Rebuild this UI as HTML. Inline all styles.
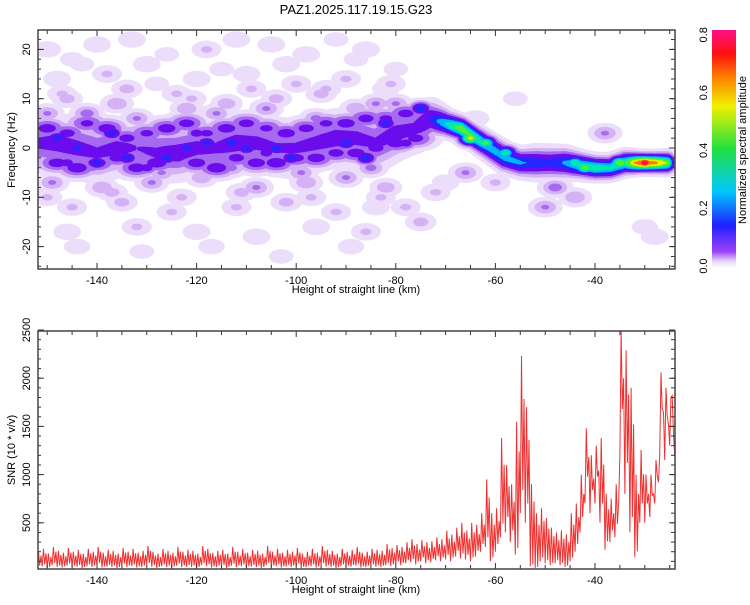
<!DOCTYPE html>
<html><head><meta charset="utf-8"><style>
body{margin:0;background:#fff;width:750px;height:600px;overflow:hidden}
svg{font-family:"Liberation Sans",sans-serif}
</style></head><body>
<svg id="fig" width="750" height="600">
<defs>
<linearGradient id="cb" x1="0" y1="1" x2="0" y2="0">
<stop offset="0" stop-color="#ffffff"/><stop offset="0.03" stop-color="#e4d2fa"/>
<stop offset="0.07" stop-color="#9b40f5"/><stop offset="0.18" stop-color="#2020ff"/>
<stop offset="0.32" stop-color="#00c8ff"/><stop offset="0.5" stop-color="#20e040"/>
<stop offset="0.68" stop-color="#f0f000"/><stop offset="0.8" stop-color="#ff8000"/>
<stop offset="0.9" stop-color="#ff1010"/><stop offset="1" stop-color="#ff1088"/>
</linearGradient>
<clipPath id="c1"><rect x="38" y="30" width="637" height="239"/></clipPath>
<clipPath id="c2"><rect x="38" y="331" width="637" height="238"/></clipPath>
</defs>
<text x="356" y="14" text-anchor="middle" font-size="13">PAZ1.2025.117.19.15.G23</text>
<g id="spec" clip-path="url(#c1)"></g>
<g id="ax1"></g>
<rect x="712" y="30" width="24" height="238" fill="url(#cb)"/>
<g id="cbax"></g>
<text transform="translate(746,150) rotate(-90)" text-anchor="middle" font-size="11">Normalized spectral amplitude</text>
<g id="snr" clip-path="url(#c2)"></g>
<g id="ax2"></g>
</svg>
<script>
// ---- Spectrogram data ----
const ridgeKm   = [-152,-148,-144,-140,-136,-132,-128,-124,-120,-116,-112,-108,-104,-100,-96,-92,-88,-84,-80,-76,-73,-70,-67,-64,-61,-58,-55,-52,-49,-46,-43,-40,-37,-34,-31,-28,-25];
const ridgeFreq = [1,1,0,-1,0,0,-1,-1,0,0,1,1,0,0,1,2,2,1,3,4,6,5,4,2,0,-2,-3,-3,-3,-3,-3.5,-4,-4,-3,-3,-3,-3];
const ridgeAmp  = [0.14,0.16,0.15,0.14,0.15,0.13,0.14,0.16,0.15,0.14,0.16,0.15,0.14,0.14,0.15,0.16,0.15,0.14,0.16,0.15,0.2,0.34,0.46,0.4,0.32,0.3,0.28,0.24,0.22,0.28,0.36,0.4,0.36,0.4,0.7,0.65,0.45];
const ridgeWidth= [2.6,2.6,2.8,2.8,2.6,2.8,2.8,2.6,2.6,2.8,2.6,2.6,2.6,2.8,2.6,2.6,2.6,2.6,2.4,2.2,1.8,1.3,1.2,1.2,1.3,1.4,1.4,1.6,1.6,1.5,1.3,1.2,1.2,1.2,1.0,1.0,1.1];
// background blobs: km, frequency, amplitude
const blobKm  = [-150,-145,-140,-133,-126,-118,-112,-105,-98,-92,-86,-80,-148,-138,-128,-120,-110,-100,-90,-82,-146,-136,-124,-114,-104,-94,-84,-76,-150,-142,-132,-122,-116,-106,-96,-88,-80,-149,-139,-129,-119,-108,-98,-90,-82,-145,-135,-125,-112,-102,-92,-84,-146,-132,-120,-108,-96,-86,-75,-70,-60,-56,-48,-44,-40,-50,-53,-66,-30,-28,-38,
 -143,-130,-115,-102,-88,-147,-134,-121,-109,-95,-81,-141,-127,-113,-99,-85,-150,-137,-123,-111,-97,-83,-144,-131,-117,-103,-89,-78,-72,-64];
const blobFreq= [20,18,21,22,19,20,22,21,19,22,20,16,14,15,13,14,15,13,14,12,10,9,11,9,10,12,9,8,7,7,6,8,7,8,6,8,9,-7,-8,-7,-6,-8,-7,-6,-8,-12,-11,-13,-12,-11,-13,-12,-17,-16,-17,-18,-16,-17,-15,-7,-7,10,-8,-10,-5,-12,-3,-5,-16,-18,3,
 17,17,16,17,18,11,12,10,12,11,13,-4,-5,-4,-5,-4,-10,-9,-10,-9,-10,-10,-20,-21,-20,-22,-20,-12,-9,6];
const blobAmp = [0.04,0.03,0.04,0.04,0.03,0.05,0.04,0.04,0.04,0.03,0.04,0.03,0.04,0.05,0.03,0.04,0.04,0.05,0.05,0.04,0.06,0.08,0.05,0.07,0.06,0.05,0.09,0.09,0.09,0.11,0.09,0.08,0.09,0.09,0.1,0.08,0.09,0.09,0.08,0.09,0.08,0.09,0.08,0.09,0.07,0.05,0.06,0.05,0.05,0.06,0.05,0.04,0.04,0.05,0.04,0.04,0.04,0.05,0.06,0.04,0.05,0.03,0.11,0.08,0.07,0.09,0.13,0.09,0.035,0.04,0.09,
 0.03,0.04,0.03,0.04,0.03,0.05,0.06,0.05,0.05,0.06,0.05,0.1,0.09,0.1,0.09,0.1,0.05,0.06,0.05,0.06,0.05,0.05,0.035,0.03,0.035,0.03,0.035,0.05,0.05,0.04];
// dark-purple band patches around the noisy ridge
const bandKm  = [-150,-146,-142,-138,-134,-130,-126,-122,-118,-114,-110,-106,-102,-98,-94,-90,-86,-82,-78,-148,-144,-140,-136,-132,-128,-124,-120,-116,-112,-108,-104,-100,-96,-92,-88,-84,-80,-76];
const bandFreq= [4,3,5,4,2,3,4,5,3,4,5,4,3,4,5,5,6,6,7,-3,-4,-3,-2,-4,-3,-2,-3,-4,-2,-3,-3,-2,-2,-1,-1,0,1,2];
const bandAmp = [0.17,0.16,0.15,0.17,0.16,0.15,0.17,0.16,0.15,0.17,0.16,0.15,0.17,0.16,0.15,0.17,0.16,0.15,0.16,0.17,0.18,0.17,0.16,0.17,0.18,0.16,0.17,0.18,0.16,0.17,0.18,0.16,0.17,0.16,0.17,0.16,0.17,0.16];
// spot highlights on ridge
const spotKm  = [-148,-144,-140,-137,-134,-126,-122,-118,-113,-110,-104,-101,-90,-86,-82,-75,-65,-62,-58,-44,-42,-35,-30,-27,-146,-130,-120,-106,-94,-78];
const spotFreq= [2,0,-3,3,-2,-2,0,1,1,0,0,-2,1,-2,5,8,2,1,-1,-3,-4,-3,-3,-3,-3,-4,3,-1,2,1];
const spotAmp = [0.24,0.24,0.24,0.24,0.24,0.25,0.24,0.24,0.26,0.24,0.25,0.24,0.25,0.25,0.24,0.26,0.55,0.45,0.4,0.42,0.48,0.5,0.8,0.62,0.18,0.18,0.18,0.18,0.18,0.18];
// ---- SNR data (1 km steps from -152 to -24) ----
const snrKm0 = -152;
const snrLow  = [40,50,30,60,40,35,55,40,45,30,50,40,60,35,45,40,30,55,40,50,35,40,60,45,30,50,40,35,55,40,45,40,30,60,50,35,40,45,30,55,40,50,35,45,40,30,60,40,50,35,45,40,55,30,40,50,35,60,45,40,30,50,40,45,55,35,40,50,45,40,60,50,
 70,60,80,90,70,100,80,90,110,100,
 120,100,150,130,120,100,150,200,250,100,200,350,400,300,170,600,500,50,30,100,80,60,80,60,40,100,200,400,700,600,700,500,220,300,350,1200,800,400,145,500,500,560,700,1200,1150,1300,1200];
const snrHigh = [200,230,180,250,210,190,240,200,220,180,230,200,250,190,220,210,180,240,200,230,190,210,260,200,180,230,210,190,250,200,220,210,180,260,230,190,210,220,180,250,200,230,190,220,210,180,260,200,230,190,220,200,240,180,200,230,190,260,220,210,180,230,200,220,250,190,200,230,220,210,280,240,
 270,250,300,330,280,320,300,310,350,330,
 420,380,450,500,420,500,480,600,950,600,650,1380,1100,900,1550,2230,1700,900,600,650,550,450,400,420,380,600,700,1000,1480,1200,1300,1380,800,750,900,2500,2290,1900,1000,1255,1000,1000,1150,2060,1900,1800,1400];

const NS='http://www.w3.org/2000/svg';
function mk(tag,attrs,parent){const e=document.createElementNS(NS,tag);for(const k in attrs)e.setAttribute(k,attrs[k]);parent.appendChild(e);return e;}
const xKm = km => 97 + 4.98*(km+140);
const yHz = f => 148 - 4.93*f;
const ySnr = v => 571 - 0.0964*v;

const levels=[0.01,0.04,0.08,0.13,0.2,0.27,0.34,0.42,0.52,0.62,0.7];
const colors=['#ecdefb','#d4b2f5','#a56af0','#6a0cec','#2626ff','#00b8ff','#00e8b0','#50f030','#e8f000','#ff7a00','#ff1048'];
const spec=document.getElementById('spec');
const samples=[];
for(let i=0;i<ridgeKm.length-1;i++){
  const n=Math.ceil((ridgeKm[i+1]-ridgeKm[i])/0.7);
  for(let j=0;j<n;j++){const t=j/n;
    samples.push([ridgeKm[i]+t*(ridgeKm[i+1]-ridgeKm[i]),ridgeFreq[i]+t*(ridgeFreq[i+1]-ridgeFreq[i]),ridgeAmp[i]+t*(ridgeAmp[i+1]-ridgeAmp[i]),ridgeWidth[i]+t*(ridgeWidth[i+1]-ridgeWidth[i]),0]);}
}
for(let i=0;i<blobKm.length;i++) samples.push([blobKm[i],blobFreq[i],blobAmp[i],1.0,1]);
for(let i=0;i<bandKm.length;i++) samples.push([bandKm[i],bandFreq[i],bandAmp[i],1.2,3]);
for(let i=0;i<spotKm.length;i++) samples.push([spotKm[i],spotFreq[i],spotAmp[i],0.9,2]);
const rxFactor=[0,1.7,1.6,2.0];
levels.forEach((t,li)=>{
  const g=mk('g',{fill:colors[li]},spec);
  
  
  samples.forEach(s=>{
    if(s[2]<=t)return;
    const d=s[3]*Math.sqrt(2*Math.log(s[2]/t));
    const ry=d*4.93;
    const rx=s[4]===0?Math.max(3.2,ry*0.9):ry*rxFactor[s[4]];
    const e=mk('ellipse',{cx:xKm(s[0]),cy:yHz(s[1]),rx:rx,ry:ry},g);
    
    
  });
});

function axes(gid,top,bot,yTicksMajor,yTicksMinor,yf,labels,ylabel,ylabelY){
  const g=document.getElementById(gid);
  for(let km=-150;km<=-25;km+=5){
    const x=xKm(km);const maj=km%20===0;const L=maj?6:4;
    mk('line',{x1:x,x2:x,y1:bot,y2:bot-L,stroke:'#333','stroke-width':1},g);
    mk('line',{x1:x,x2:x,y1:top,y2:top+L,stroke:'#333','stroke-width':1},g);
    if(maj&&km>=-140&&km<=-40){const t=mk('text',{x:x,y:bot+15,'text-anchor':'middle','font-size':11},g);t.textContent=km;
      }
  }
  yTicksMinor.forEach(v=>{const y=yf(v);if(y<top||y>bot)return;
    mk('line',{x1:38,x2:41,y1:y,y2:y,stroke:'#333'},g);mk('line',{x1:675,x2:671,y1:y,y2:y,stroke:'#333'},g);});
  yTicksMajor.forEach((v,i)=>{const y=yf(v);
    mk('line',{x1:38,x2:44,y1:y,y2:y,stroke:'#333'},g);mk('line',{x1:675,x2:669,y1:y,y2:y,stroke:'#333'},g);
    const t=mk('text',{transform:`translate(30,${y}) rotate(-90)`,'text-anchor':'middle','font-size':11},g);t.textContent=labels[i];
    });
  mk('rect',{x:38,y:top,width:637,height:bot-top,fill:'none',stroke:'#444','stroke-width':1.5},g);
  const xl=mk('text',{x:356,y:bot+24,'text-anchor':'middle','font-size':11},g);xl.textContent='Height of straight line (km)';
  
  const yl=mk('text',{transform:`translate(15,${ylabelY}) rotate(-90)`,'text-anchor':'middle','font-size':11},g);yl.textContent=ylabel;
  
}
const hzMajor=[20,10,0,-10,-20];const hzMinor=[];for(let f=-24;f<=24;f+=2)hzMinor.push(f);
axes('ax1',30,269,hzMajor,hzMinor,yHz,hzMajor,'Frequency (Hz)',150);
const snrMajor=[500,1000,1500,2000,2500];const snrMinor=[];for(let v=100;v<=2500;v+=100)snrMinor.push(v);
axes('ax2',331,569,snrMajor,snrMinor,ySnr,snrMajor,'SNR (10 * v/v)',450);

const cb=document.getElementById('cbax');
const cbTicks=[0.0,0.2,0.4,0.6,0.8];
cbTicks.forEach(v=>{const y=266-v*289;
  const t=mk('text',{transform:`translate(707,${y}) rotate(-90)`,'text-anchor':'middle','font-size':11},cb);t.textContent=v.toFixed(1);
  });

// SNR line: four vertices per km alternating between the low/high envelope values
let pts=[];
for(let i=0;i<snrLow.length;i++){const km=snrKm0+i;
  pts.push(xKm(km).toFixed(1)+','+ySnr(snrLow[i]).toFixed(1));
  pts.push(xKm(km+0.25).toFixed(1)+','+ySnr(snrHigh[i]).toFixed(1));
  pts.push(xKm(km+0.5).toFixed(1)+','+ySnr(snrLow[i]*1.4).toFixed(1));
  pts.push(xKm(km+0.75).toFixed(1)+','+ySnr(snrHigh[i]*0.8).toFixed(1));}
const pl=mk('polyline',{points:pts.join(' '),fill:'none',stroke:'#f03030','stroke-width':1},document.getElementById('snr'));


</script>
</body></html>
